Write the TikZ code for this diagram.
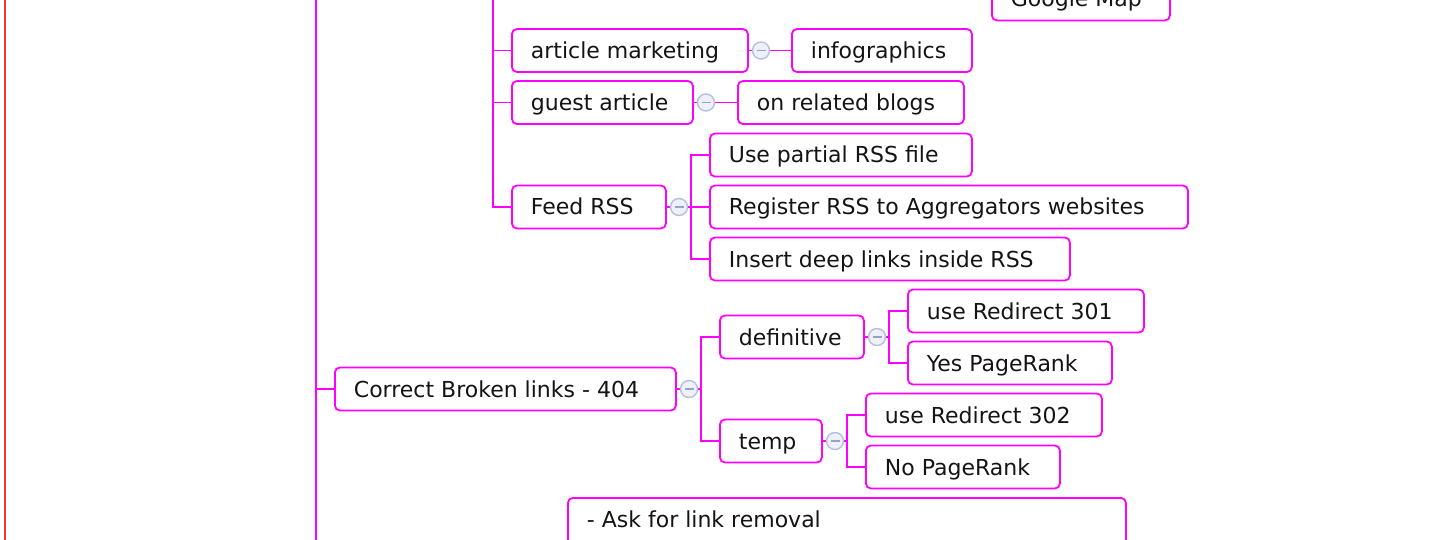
\documentclass[tikz,border=0pt]{standalone}
\usepackage{fontspec}
\setmainfont{DejaVu Sans}
\usetikzlibrary{backgrounds}

\definecolor{branch}{HTML}{FF00FF}
\definecolor{foldring}{HTML}{B4C0E0}
\definecolor{foldfill}{HTML}{EEF1FA}
\definecolor{folddash}{HTML}{98A2C4}
\definecolor{framered}{HTML}{FF3030}
\definecolor{ink}{HTML}{141414}

\tikzset{
  link/.style={draw=branch, line width=1.8pt},
  topic/.style={draw=branch, line width=1.8pt, rounded corners=5pt, fill=white,
    anchor=west, inner xsep=19pt, inner ysep=0pt, minimum height=43pt,
    text height=16pt, text depth=0pt, text=ink, font=\fontsize{22}{26}\selectfont},
  fold/.style={circle, draw=foldring, fill=foldfill, line width=1.4pt,
    minimum size=17pt, inner sep=0pt,
    path picture={\draw[folddash, line width=1.4pt]
      ([xshift=-4.5pt]path picture bounding box.center) --
      ([xshift=4.5pt]path picture bounding box.center);}},
  frameline/.style={draw=framered, line width=2pt},
}

% topic box: name, left x, centre y, full width, text
\newcommand\mmtopic[5]{%
  \node[topic] (#1) at (#2,#3) {\makebox[\dimexpr#4pt-38pt\relax][l]{#5}};}

\begin{document}
\begin{tikzpicture}[x=1pt,y=-1pt]
\clip (0,0) rectangle (1430,540);

% --- topics ---
\mmtopic{gm}{991}{-1}{178}{Google Map}
\mmtopic{am}{511}{50.5}{236}{article marketing}
\mmtopic{info}{791}{50.5}{180}{infographics}
\mmtopic{ga}{511}{102.5}{181}{guest article}
\mmtopic{orb}{737}{102.5}{226}{on related blogs}
\mmtopic{feed}{511}{207}{154}{Feed RSS}
\mmtopic{upr}{709}{155}{262}{Use partial RSS file}
\mmtopic{reg}{709}{207}{478}{Register RSS to Aggregators websites}
\mmtopic{ins}{709}{259}{360}{Insert deep links inside RSS}
\mmtopic{cbl}{334}{389}{341}{Correct Broken links - 404}
\mmtopic{def}{719}{337}{144}{definitive}
\mmtopic{tmp}{719}{441}{102}{temp}
\mmtopic{r301}{907}{311}{236}{use Redirect 301}
\mmtopic{yes}{907}{363}{204}{Yes PageRank}
\mmtopic{r302}{865}{415}{236}{use Redirect 302}
\mmtopic{nop}{865}{467}{194}{No PageRank}
\node[topic, anchor=north west, inner ysep=13pt, text depth=80pt, text height=17pt]
  (ask) at (567,497) {\makebox[520pt][l]{- Ask for link removal}};

% --- collapse markers ---
\node[fold] (amc)   at (761,50.5)  {};
\node[fold] (gac)   at (706,102.5) {};
\node[fold] (feedc) at (679,207)   {};
\node[fold] (cblc)  at (689,389)   {};
\node[fold] (defc)  at (877,337)   {};
\node[fold] (tmpc)  at (835,441)   {};

% --- trunk and fork points ---
\coordinate (mTop) at (316,-20);
\coordinate (mBot) at (316,560);
\coordinate (sTop) at (493,-20);
\coordinate (gT)   at (973,-30);
\coordinate (fT)   at (691,207);
\coordinate (cT)   at (701,389);
\coordinate (dT)   at (889,337);
\coordinate (tT)   at (847,441);
\coordinate (rf1)  at (4.5,-20);
\coordinate (rf2)  at (4.5,560);

\begin{scope}[on background layer]
  \fill[white] (0,0) rectangle (1430,540);
  \draw[frameline] (rf1) -- (rf2);
  % main trunk
  \draw[link] (mTop) -- (mBot);
  \draw[link] (cbl.west -| mTop) -- (cbl.west);
  % promotion branch
  \draw[link] (sTop) |- (feed.west);
  \draw[link] (am.west -| sTop) -- (am.west);
  \draw[link] (ga.west -| sTop) -- (ga.west);
  \draw[link] (gT) |- (gm.west);
  \draw[link] (am.east) -- (info.west);
  \draw[link] (ga.east) -- (orb.west);
  % feed
  \draw[link] (feed.east) -- (fT);
  \draw[link] (upr.west) -| (fT) |- (ins.west);
  \draw[link] (fT) -- (reg.west);
  % broken links
  \draw[link] (cbl.east) -- (cT);
  \draw[link] (def.west) -| (cT) |- (tmp.west);
  \draw[link] (def.east) -- (dT);
  \draw[link] (r301.west) -| (dT) |- (yes.west);
  \draw[link] (tmp.east) -- (tT);
  \draw[link] (r302.west) -| (tT) |- (nop.west);
\end{scope}
\end{tikzpicture}
\end{document}
